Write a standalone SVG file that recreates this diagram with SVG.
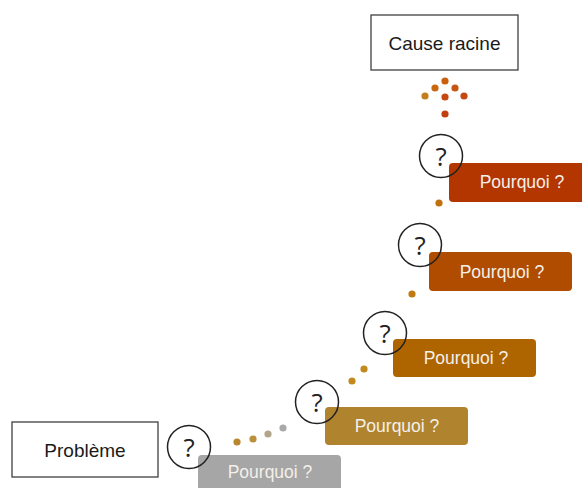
<svg xmlns="http://www.w3.org/2000/svg" width="582" height="488" viewBox="0 0 582 488">
  <style>
    .frame { fill: #ffffff; stroke: #404040; stroke-width: 1.3; }
    .label { font-family: "Liberation Sans", Arial, sans-serif; font-size: 19px; fill: #1a1a1a; text-anchor: middle; }
    .step { stroke: none; }
    .steptext { font-family: "Liberation Sans", Arial, sans-serif; font-size: 17.5px; fill: #f4f0ea; text-anchor: middle; }
    .ring { fill: none; stroke: #222222; stroke-width: 1.5; }
    .qmark { font-family: "Open Sans", "Liberation Sans", sans-serif; font-weight: 400; font-size: 26px; fill: #222222; text-anchor: middle; }
  </style>

  <!-- start and end boxes -->
  <g id="root-cause">
    <rect class="frame" x="371" y="15" width="147" height="55"/>
    <text class="label" x="444.5" y="49.5">Cause racine</text>
  </g>
  <g id="problem">
    <rect class="frame" x="12" y="422" width="146" height="55"/>
    <text class="label" x="85" y="456.5">Problème</text>
  </g>

  <!-- dotted path climbing from the problem to the root cause -->
  <g id="connectors">
    <circle cx="237" cy="442" r="3.6" fill="#b8862c"/>
    <circle cx="253" cy="439" r="3.6" fill="#bb8f3c"/>
    <circle cx="268" cy="434" r="3.6" fill="#b3a58c"/>
    <circle cx="283" cy="428" r="3.6" fill="#a9a9a9"/>
    <circle cx="352" cy="381" r="3.6" fill="#c2891f"/>
    <circle cx="364" cy="369" r="3.6" fill="#c2891f"/>
    <circle cx="412" cy="294" r="3.6" fill="#c07a12"/>
    <circle cx="439" cy="203" r="3.6" fill="#c0700e"/>
    <!-- arrowhead made of dots -->
    <circle cx="445" cy="81" r="3.6" fill="#c8600f"/>
    <circle cx="435" cy="88" r="3.6" fill="#c7680f"/>
    <circle cx="455" cy="88" r="3.6" fill="#c6560f"/>
    <circle cx="425" cy="96" r="3.6" fill="#c2801c"/>
    <circle cx="445" cy="97" r="3.6" fill="#c4480f"/>
    <circle cx="464" cy="96" r="3.6" fill="#c4480f"/>
    <circle cx="445" cy="114" r="3.6" fill="#c0400f"/>
  </g>

  <!-- "why" steps, bottom to top -->
  <g id="why-1">
    <rect class="step" x="198" y="455" width="143" height="40" rx="4" fill="#a6a6a6"/>
    <text class="steptext" x="270" y="478">Pourquoi ?</text>
    <circle class="ring" cx="189" cy="447" r="21.5"/>
    <text class="qmark" x="189" y="456.5">?</text>
  </g>
  <g id="why-2">
    <rect class="step" x="325" y="407" width="143" height="38" rx="4" fill="#b0842f"/>
    <text class="steptext" x="397" y="432">Pourquoi ?</text>
    <circle class="ring" cx="317" cy="402" r="21.5"/>
    <text class="qmark" x="317" y="411.5">?</text>
  </g>
  <g id="why-3">
    <rect class="step" x="393" y="339" width="143" height="38" rx="4" fill="#ae6500"/>
    <text class="steptext" x="466" y="364">Pourquoi ?</text>
    <circle class="ring" cx="385" cy="333" r="21.5"/>
    <text class="qmark" x="385" y="342.5">?</text>
  </g>
  <g id="why-4">
    <rect class="step" x="429" y="252" width="143" height="39" rx="4" fill="#b04c00"/>
    <text class="steptext" x="502" y="278">Pourquoi ?</text>
    <circle class="ring" cx="420" cy="245" r="21.5"/>
    <text class="qmark" x="420" y="254.5">?</text>
  </g>
  <g id="why-5">
    <rect class="step" x="449" y="163" width="143" height="39" rx="4" fill="#b33600"/>
    <text class="steptext" x="522" y="188">Pourquoi ?</text>
    <circle class="ring" cx="441" cy="156" r="21.5"/>
    <text class="qmark" x="441" y="165.5">?</text>
  </g>
</svg>
